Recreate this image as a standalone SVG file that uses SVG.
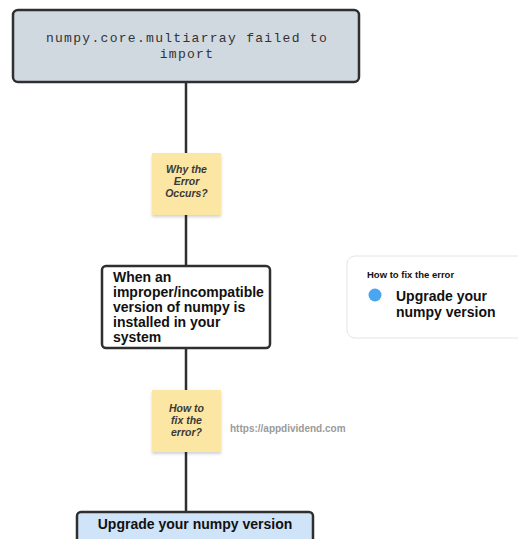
<svg xmlns="http://www.w3.org/2000/svg" width="518" height="539" viewBox="0 0 518 539">
  <defs>
    <filter id="noteShadow" x="-20%" y="-20%" width="140%" height="150%">
      <feDropShadow dx="0" dy="2" stdDeviation="1.5" flood-color="#000" flood-opacity="0.18"/>
    </filter>
  </defs>
  <style>
    .box { stroke: #2f2f2f; stroke-width: 2.5; }
    .note { fill: #fbe6a3; filter: url(#noteShadow); }
    .noteText { font-family: "Liberation Sans", Arial, sans-serif; font-size: 10.5px; font-weight: bold; font-style: italic; fill: #3a3a3a; text-anchor: middle; }
    .mono { font-family: "Liberation Mono", "Courier New", monospace; font-size: 13px; letter-spacing: 1.3px; fill: #333; text-anchor: middle; }
    .bold { font-family: "Liberation Sans", Arial, sans-serif; font-weight: bold; fill: #111; }
    .link { stroke: #2f2f2f; stroke-width: 2.5; fill: none; }
  </style>
  <rect width="518" height="539" fill="#ffffff"/>

  <!-- connectors -->
  <g id="connectors">
    <line class="link" x1="186" y1="82" x2="186" y2="154"/>
    <line class="link" x1="186" y1="214" x2="186" y2="267"/>
    <line class="link" x1="186" y1="348" x2="186" y2="391"/>
    <line class="link" x1="186" y1="451" x2="186" y2="513"/>
  </g>

  <g id="node-error">
    <rect class="box" x="13" y="10" width="346" height="72" rx="5" fill="#d0d8e0"/>
    <text class="mono" x="187" y="42">numpy.core.multiarray failed to</text>
    <text class="mono" x="187" y="58">import</text>
  </g>

  <g id="note-why">
    <rect class="note" x="152" y="153" width="69" height="62"/>
    <text class="noteText" x="186.5" y="173">Why the</text>
    <text class="noteText" x="186.5" y="185">Error</text>
    <text class="noteText" x="186.5" y="197">Occurs?</text>
  </g>

  <g id="node-cause">
    <rect class="box" x="102" y="266" width="168" height="82" rx="4" fill="#ffffff"/>
    <text class="bold" font-size="14" x="113" y="282">When an</text>
    <text class="bold" font-size="14" x="113" y="297">improper/incompatible</text>
    <text class="bold" font-size="14" x="113" y="312">version of numpy is</text>
    <text class="bold" font-size="14" x="113" y="327">installed in your</text>
    <text class="bold" font-size="14" x="113" y="342">system</text>
  </g>

  <g id="card-fix">
    <rect x="347" y="256" width="180" height="82" rx="8" fill="#ffffff" stroke="#e4e4e4" stroke-width="1"/>
    <text class="bold" font-size="9.5" x="367" y="278" fill="#222">How to fix the error</text>
    <circle cx="375" cy="295" r="6.5" fill="#4aa6f0"/>
    <text class="bold" font-size="14" x="396" y="301">Upgrade your</text>
    <text class="bold" font-size="14" x="396" y="317">numpy version</text>
  </g>

  <g id="note-how">
    <rect class="note" x="152" y="390" width="69" height="62"/>
    <text class="noteText" x="186.5" y="412">How to</text>
    <text class="noteText" x="186.5" y="424">fix the</text>
    <text class="noteText" x="186.5" y="436">error?</text>
  </g>

  <text x="230" y="432" font-family="Liberation Sans, Arial, sans-serif" font-size="10" font-weight="bold" fill="#9a9a9a">https://appdividend.com</text>

  <g id="node-solution">
    <rect class="box" x="77" y="512" width="236" height="40" rx="4" fill="#cfe3f9"/>
    <text class="bold" font-size="14" x="195" y="529" text-anchor="middle">Upgrade your numpy version</text>
  </g>
</svg>
